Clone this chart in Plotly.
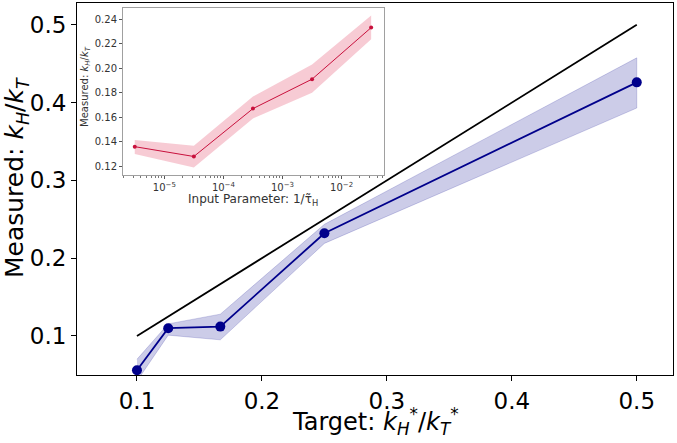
import plotly.graph_objects as go

# Main panel data
target = [0.1, 0.125, 0.1667, 0.25, 0.5]
measured = [0.056, 0.110, 0.112, 0.232, 0.426]
measured_upper = [0.070, 0.1155, 0.128, 0.2435, 0.4575]
measured_lower = [0.042, 0.101, 0.095, 0.219, 0.393]
ideal_x = [0.1, 0.5]
ideal_y = [0.1, 0.5]
main_ticks = [0.1, 0.2, 0.3, 0.4, 0.5]
main_tick_labels = ["0.1", "0.2", "0.3", "0.4", "0.5"]

# Inset data
inv_tau = [3.16e-6, 3.16e-5, 3.16e-4, 3.16e-3, 3.16e-2]
inset_measured = [0.136, 0.128, 0.167, 0.191, 0.233]
inset_upper = [0.1414, 0.1368, 0.1768, 0.203, 0.2428]
inset_lower = [0.130, 0.119, 0.159, 0.180, 0.2236]
inset_xticks = [1e-5, 1e-4, 1e-3, 1e-2]
inset_xtick_labels = ["10<sup>−5</sup>", "10<sup>−4</sup>", "10<sup>−3</sup>", "10<sup>−2</sup>"]
inset_yticks = [0.12, 0.14, 0.16, 0.18, 0.20, 0.22, 0.24]
inset_ytick_labels = ["0.12", "0.14", "0.16", "0.18", "0.20", "0.22", "0.24"]

FONT = "DejaVu Sans"
fig = go.Figure()

# main band
fig.add_trace(go.Scatter(
    x=target + target[::-1], y=measured_upper + measured_lower[::-1], mode="lines",
    fill="toself", fillcolor="rgba(0,0,139,0.2)", line=dict(width=0.8, color="rgba(0,0,139,0.22)"),
    hoverinfo="skip", showlegend=False, xaxis="x", yaxis="y"))
fig.add_trace(go.Scatter(
    x=ideal_x, y=ideal_y, mode="lines", line=dict(color="black", width=1.8),
    showlegend=False, xaxis="x", yaxis="y"))
fig.add_trace(go.Scatter(
    x=target, y=measured, mode="lines+markers",
    line=dict(color="#00008b", width=1.8), marker=dict(size=10, color="#00008b"),
    showlegend=False, xaxis="x", yaxis="y"))

# inset band
fig.add_trace(go.Scatter(
    x=inv_tau + inv_tau[::-1], y=inset_upper + inset_lower[::-1], mode="lines",
    fill="toself", fillcolor="rgba(220,20,60,0.22)", line=dict(width=0),
    hoverinfo="skip", showlegend=False, xaxis="x2", yaxis="y2"))
fig.add_trace(go.Scatter(
    x=inv_tau, y=inset_measured, mode="lines+markers",
    line=dict(color="#c8103c", width=1), marker=dict(size=4, color="#c8103c"),
    showlegend=False, xaxis="x2", yaxis="y2"))

axis_common = dict(showgrid=False, zeroline=False, showline=True, mirror=True,
                   ticks="outside", automargin=False)

fig.update_layout(
    width=677, height=443,
    margin=dict(l=77, r=4, t=3, b=68, autoexpand=False),
    paper_bgcolor="white", plot_bgcolor="white",
    font=dict(family=FONT, color="black"),
    xaxis=dict(
        range=[0.052, 0.529], tickvals=main_ticks, ticktext=main_tick_labels,
        linecolor="black", linewidth=1, ticklen=5, tickcolor="black",
        tickfont=dict(size=23, family=FONT), **axis_common,
    ),
    yaxis=dict(
        range=[0.0498, 0.528], tickvals=main_ticks, ticktext=main_tick_labels,
        linecolor="black", linewidth=1, ticklen=5, tickcolor="black",
        tickfont=dict(size=23, family=FONT), **axis_common,
    ),
    xaxis2=dict(
        domain=[0.0772, 0.515], anchor="y2", type="log", range=[-5.699, -1.284],
        tickvals=inset_xticks, ticktext=inset_xtick_labels,
        linecolor="#a0a0a0", linewidth=1, ticklen=3, tickcolor="#555",
        minor=dict(ticks="outside", ticklen=2, tickcolor="#777", dtick="D1", showgrid=False),
        tickfont=dict(size=10, family=FONT, color="#333"), **axis_common,
    ),
    yaxis2=dict(
        domain=[0.5376, 0.9866], anchor="x2", range=[0.1129, 0.249],
        tickvals=inset_yticks, ticktext=inset_ytick_labels,
        linecolor="#a0a0a0", linewidth=1, ticklen=3, tickcolor="#555",
        tickfont=dict(size=10, family=FONT, color="#333"), **axis_common,
    ),
    annotations=[
        dict(text="Target: <i>k</i><sub><i>H</i></sub><sup>*</sup>/<i>k</i><sub><i>T</i></sub><sup>*</sup>",
             xref="paper", yref="paper", x=0.5, y=-0.124, xanchor="center", yanchor="middle",
             showarrow=False, font=dict(size=24, family=FONT, color="black")),
        dict(text="Measured: <i>k</i><sub><i>H</i></sub>/<i>k</i><sub><i>T</i></sub>",
             xref="paper", yref="paper", x=-0.102, y=0.53, xanchor="center", yanchor="middle",
             textangle=-90, showarrow=False, font=dict(size=25, family=FONT, color="black")),
        dict(text="Input Parameter: 1/τ̃<sub>H</sub>",
             xref="paper", yref="paper", x=0.2953, y=0.4704, xanchor="center", yanchor="middle",
             showarrow=False, font=dict(size=12, family=FONT, color="#333")),
        dict(text="Measured: <i>k</i><sub><i>H</i></sub>/<i>k</i><sub><i>T</i></sub>",
             xref="paper", yref="paper", x=0.0151, y=0.777, xanchor="center", yanchor="middle",
             textangle=-90, showarrow=False, font=dict(size=10, family=FONT, color="#333")),
    ],
)

fig.write_html("out.html", config={"displayModeBar": False},
               post_script="document.body.style.margin='0';document.body.style.overflow='hidden';")
